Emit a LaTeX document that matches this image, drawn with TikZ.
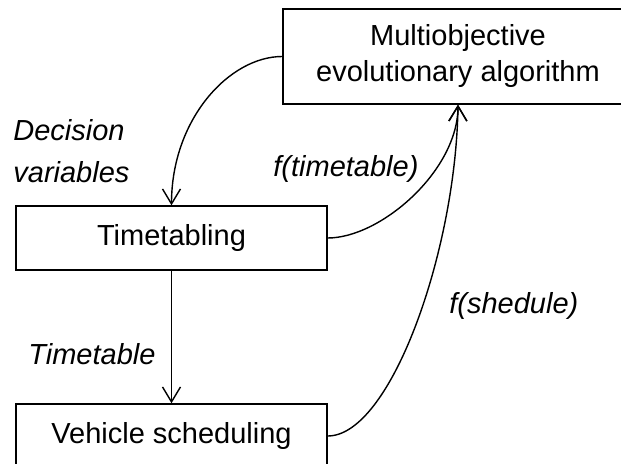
\documentclass[tikz,border=0pt]{standalone}
\usepackage{fontspec}
\setmainfont{Liberation Sans}
\usetikzlibrary{arrows.meta}

\tikzset{
  procbox/.style={draw, line width=0.7pt, rectangle, align=center,
    font={\fontsize{14.5pt}{18pt}\selectfont}, inner sep=0pt},
  flowlabel/.style={anchor=base west, inner sep=0pt,
    font={\fontsize{14.5pt}{18pt}\selectfont\itshape}},
  flow/.style={line width=0.7pt, -{Straight Barb[length=7.5pt,width=9pt,line width=0.7pt]}}
}

\begin{document}
\begin{tikzpicture}[x=0.5pt,y=-0.5pt]
  \useasboundingbox (0,0) rectangle (621,464);

  % process boxes
  \node[procbox, minimum width=175pt, minimum height=47.5pt] (moea) at (458,56.5)
    {Multiobjective\\evolutionary algorithm};
  \node[procbox, minimum width=155.5pt, minimum height=32pt] (tt) at (171.5,238)
    {Timetabling};
  \node[procbox, minimum width=155.5pt, minimum height=32pt] (vs) at (171.5,436)
    {Vehicle scheduling};

  % connectors
  \draw[flow] (moea.west) .. controls +(-53,0) and +(0,-86) .. (tt.north);
  \draw[flow] (tt.south) -- (vs.north);
  \draw[flow] (tt.east) .. controls +(53,0) and +(0,66) .. (moea.south);
  \draw[flow] (vs.east) .. controls +(63,0) and +(-2,146) .. (moea.south);

  % connector labels
  \node[flowlabel] (lbdec) at (13,141) {Decision};
  \node[flowlabel] (lbvar) at (13,183) {variables};
  \node[flowlabel] (lbtt) at (28,365) {Timetable};
  \node[flowlabel] (lbft) at (273,177) {f(timetable)};
  \node[flowlabel] (lbfs) at (449,314) {f(shedule)};
\end{tikzpicture}
\end{document}
